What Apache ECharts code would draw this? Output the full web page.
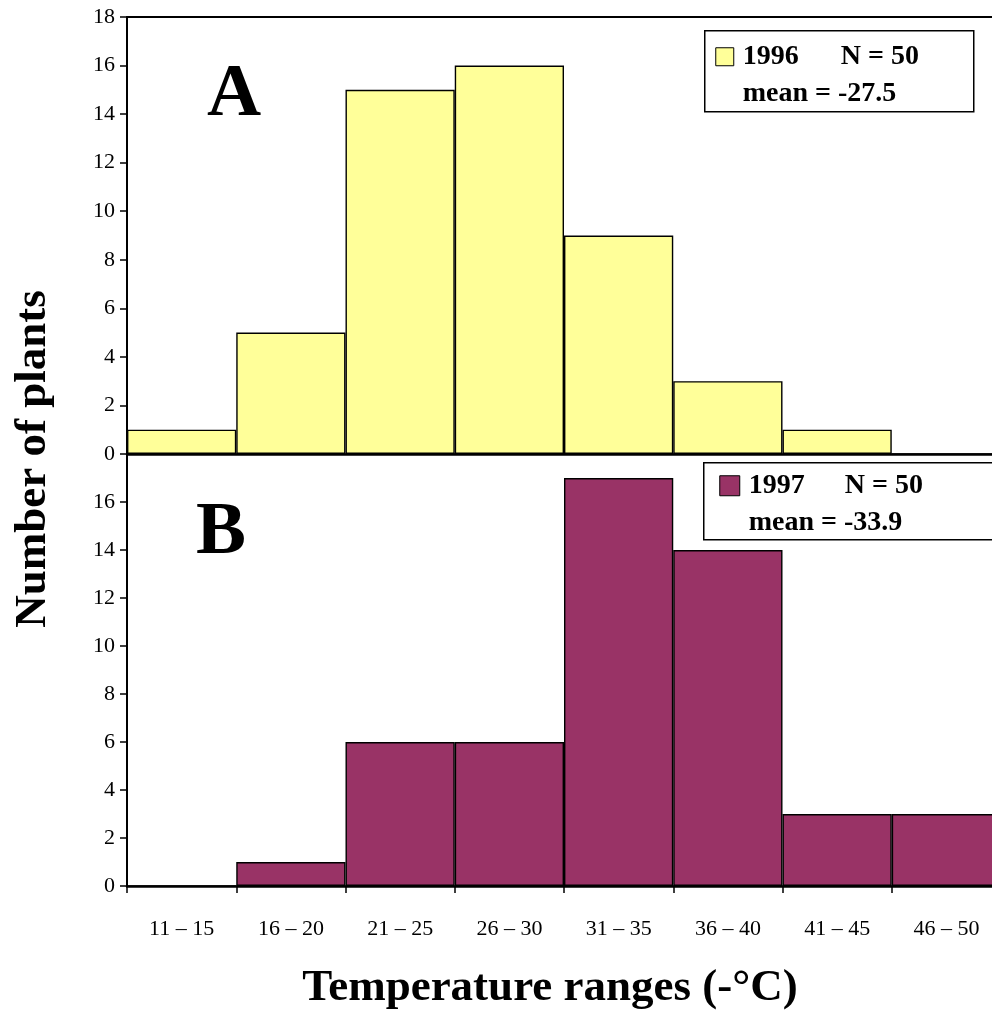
<!DOCTYPE html>
<html>
<head>
<meta charset="utf-8">
<script src="https://cdn.jsdelivr.net/npm/echarts@6/dist/echarts.min.js"></script>
<style>html,body{margin:0;padding:0;background:#fff}#c{width:992px;height:1013px}</style>
</head>
<body>
<div id="c"></div>
<script>
const categories = ['11 – 15','16 – 20','21 – 25','26 – 30','31 – 35','36 – 40','41 – 45','46 – 50'];
const counts1996 = [1, 5, 15, 16, 9, 3, 1, 0];
const counts1997 = [0, 1, 6, 6, 17, 14, 3, 3];
const yTicks = { min: 0, max: 18, interval: 2 };
const legendA = { year: '1996', n: 'N = 50', mean: 'mean = -27.5' };
const legendB = { year: '1997', n: 'N = 50', mean: 'mean = -33.9' };

const FONT = '"Liberation Serif", "Times New Roman", serif';
const chart = echarts.init(document.getElementById('c'), null, { renderer: 'canvas' });

const yAxisBase = {
  type: 'value', min: yTicks.min, max: yTicks.max, interval: yTicks.interval,
  axisLine: { show: true, lineStyle: { color: '#000', width: 2 } },
  axisTick: { show: true, length: 7, lineStyle: { color: '#000', width: 1.5 } },
  axisLabel: { color: '#000', fontFamily: FONT, fontSize: 22, margin: 12 },
  splitLine: { show: false }
};

function legendGroup(x, y, w, h, color, L, sq, textX, nX) {
  return {
    type: 'group', left: x, top: y,
    children: [
      { type: 'rect', shape: { x: 0, y: 0, width: w, height: h }, style: { fill: '#fff', stroke: '#000', lineWidth: 1.5 } },
      { type: 'rect', shape: { x: sq[0], y: sq[1], width: sq[2], height: sq[2] }, style: { fill: color, stroke: '#000', lineWidth: 1 } },
      { type: 'text', x: textX, y: sq[1] + sq[2] / 2, style: { text: L.year, font: 'bold 28px ' + FONT, fill: '#000', textVerticalAlign: 'middle', verticalAlign: 'middle' } },
      { type: 'text', x: nX, y: sq[1] + sq[2] / 2, style: { text: L.n, font: 'bold 28px ' + FONT, fill: '#000', textVerticalAlign: 'middle', verticalAlign: 'middle' } },
      { type: 'text', x: textX, y: sq[1] + sq[2] / 2 + 37, style: { text: L.mean, font: 'bold 28px ' + FONT, fill: '#000', textVerticalAlign: 'middle', verticalAlign: 'middle' } }
    ]
  };
}

chart.setOption({
  animation: false,
  backgroundColor: '#fff',
  grid: [
    { left: 127, top: 17, width: 874, height: 437, outerBoundsMode: 'none', containLabel: false },
    { left: 127, top: 454, width: 874, height: 432, outerBoundsMode: 'none', containLabel: false }
  ],
  xAxis: [
    { type: 'category', gridIndex: 0, data: categories,
      axisLine: { lineStyle: { color: '#000', width: 2.5 } }, axisTick: { show: false }, axisLabel: { show: false } },
    { type: 'category', gridIndex: 1, data: categories,
      axisLine: { lineStyle: { color: '#000', width: 2.5 } },
      axisTick: { show: true, length: 7, inside: false, lineStyle: { color: '#000', width: 1.5 } },
      axisLabel: { color: '#000', fontFamily: FONT, fontSize: 22, margin: 32 } },
    { type: 'category', gridIndex: 0, position: 'top', data: categories,
      axisLine: { lineStyle: { color: '#000', width: 2 } }, axisTick: { show: false }, axisLabel: { show: false } }
  ],
  yAxis: [
    Object.assign({}, yAxisBase, { gridIndex: 0 }),
    Object.assign({}, yAxisBase, { gridIndex: 1, axisLabel: Object.assign({}, yAxisBase.axisLabel, { showMaxLabel: false }) })
  ],
  series: [
    { type: 'bar', xAxisIndex: 0, yAxisIndex: 0, data: counts1996, barCategoryGap: '0%',
      itemStyle: { color: '#FFFF99', borderColor: '#000', borderWidth: 1.4 } },
    { type: 'bar', xAxisIndex: 1, yAxisIndex: 1, data: counts1997, barCategoryGap: '0%',
      itemStyle: { color: '#993366', borderColor: '#000', borderWidth: 1.4 } }
  ],
  graphic: [
    { type: 'text', left: 207, top: 58, style: { text: 'A', font: 'bold 75px ' + FONT, fill: '#000' } },
    { type: 'text', left: 196, top: 496, style: { text: 'B', font: 'bold 75px ' + FONT, fill: '#000' } },
    { type: 'text', rotation: Math.PI / 2, x: 33, y: 459,
      style: { text: 'Number of plants', font: 'bold 45px ' + FONT, fill: '#000', align: 'center', verticalAlign: 'middle', textAlign: 'center', textVerticalAlign: 'middle' } },
    { type: 'text', x: 550, y: 988,
      style: { text: 'Temperature ranges (-°C)', font: 'bold 45px ' + FONT, fill: '#000', align: 'center', verticalAlign: 'middle', textAlign: 'center', textVerticalAlign: 'middle' } },
    legendGroup(704, 30, 269, 81, '#FFFF99', legendA, [11, 17, 18], 38, 136),
    legendGroup(703, 462, 292, 77, '#993366', legendB, [16, 13, 20], 45, 141)
  ]
});
</script>
</body>
</html>
